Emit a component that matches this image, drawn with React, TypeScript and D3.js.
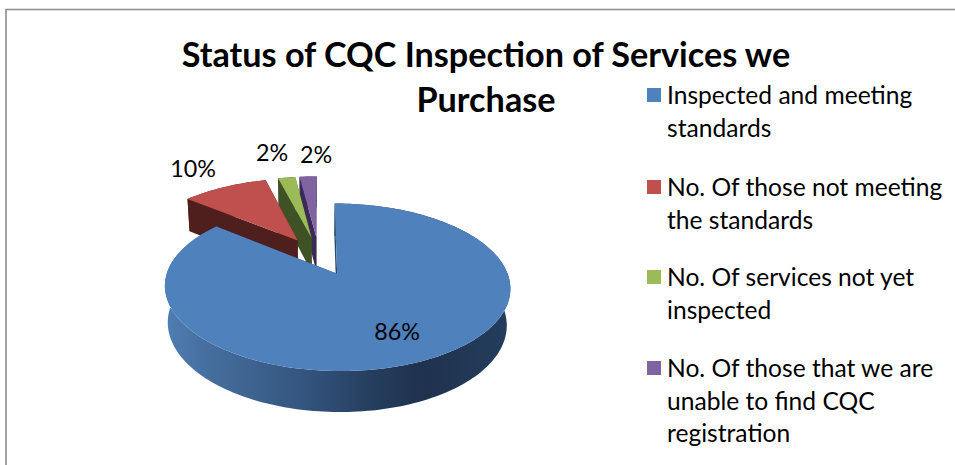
import React from "react";
import * as d3 from "d3";

const titleLines = ["Status of CQC Inspection of Services we", "Purchase"];
const categories = [
  "Inspected and meeting standards",
  "No. Of those not meeting the standards",
  "No. Of services not yet inspected",
  "No. Of those that we are unable to find CQC registration",
];
const legendLines = [
  ["Inspected and meeting", "standards"],
  ["No. Of those not meeting", "the standards"],
  ["No. Of services not yet", "inspected"],
  ["No. Of those that we are", "unable to find CQC", "registration"],
];
const shares = [86, 10, 2, 2];
const topColors = ["#4f81bd", "#c0504d", "#9bbb59", "#8064a2"];
const wallColors = ["#2b4a70", "#4f1f1e", "#3f5225", "#3a2a55"];
const labelAnchors = [[397, 332], [193, 169], [272, 153], [316, 155]];
const legendBaselines = [[104, 137], [196, 229], [286, 319], [377, 410, 442]];

const W = 955, H = 465;
const FONT = "Lato, 'Open Sans', sans-serif";

// perspective projection of the tilted pie
const CX = 319, CY = 256, A = 164.5, B = 76, K = 0.155, EXPLODE = 0.25, DEPTH = 36, SHRINK = 0.018;
const project = (x: number, z: number, lower: boolean): [number, number] => {
  const d = 1 - K * z + (lower ? SHRINK : 0);
  return [CX + (A * x) / d, CY + (B * z + (lower ? DEPTH : 0)) / d];
};
const line = d3.line<[number, number]>().x((d) => d[0]).y((d) => d[1]);

const pieArcs = d3.pie<number>().sort(null).startAngle(0).endAngle(2 * Math.PI)(shares);

const slices = pieArcs.map((arc, i) => {
  const mid = (arc.startAngle + arc.endAngle) / 2;
  const ox = EXPLODE * Math.sin(mid);
  const oz = -EXPLODE * Math.cos(mid);
  const n = Math.max(4, Math.round((arc.endAngle - arc.startAngle) * 40));
  const angles = d3.range(n + 1).map((k) => arc.startAngle + ((arc.endAngle - arc.startAngle) * k) / n);
  const rim = angles.map((t) => [ox + Math.sin(t), oz - Math.cos(t)] as [number, number]);
  const apex: [number, number] = [ox, oz];
  const P = (p: [number, number], low: boolean) => project(p[0], p[1], low);
  const top = line([apex, ...rim].map((p) => P(p, false))) + "Z";
  const wall = (a: [number, number], b: [number, number]) =>
    line([P(a, false), P(b, false), P(b, true), P(a, true)]) + "Z";
  const outer = line([...rim.map((p) => P(p, false)), ...rim.slice().reverse().map((p) => P(p, true))]) + "Z";
  return { i, top, outer, w1: wall(apex, rim[0]), w2: wall(apex, rim[rim.length - 1]) };
});

const drawOrder = [3, 2, 1, 0];
const grad = [
  [0, "#4f7db3"], [0.12, "#466f9f"], [0.4, "#34557f"], [0.62, "#243c5c"], [0.75, "#1f324e"], [1, "#243d5d"],
] as [number, string][];

export default function App() {
  return (
    <svg width={W} height={H} viewBox={`0 0 ${W} ${H}`} style={{ position: "fixed", left: 0, top: 0, background: "#fff" }}>
      <defs>
        <linearGradient id="blueWall" gradientUnits="userSpaceOnUse" x1={165} x2={509} y1={0} y2={0}>
          {grad.map(([o, c]) => <stop key={o} offset={o} stopColor={c} />)}
        </linearGradient>
      </defs>
      <rect x={0} y={0} width={W} height={H} fill="#fff" />
      <path d={`M6,${H}V9.5H${W}`} fill="none" stroke="#8c8c8c" strokeWidth={1.6} />

      {titleLines.map((t, i) => (
        <text key={t} x={486} y={67 + i * 45} textAnchor="middle" fontFamily={FONT} fontWeight={700} fontSize={34.2} fill="#000">{t}</text>
      ))}

      {drawOrder.map((k) => {
        const s = slices[k];
        const wallFill = k === 0 ? "url(#blueWall)" : wallColors[k];
        return (
          <g key={categories[k]}>
            <path d={s.w1} fill={wallColors[k]} />
            <path d={s.w2} fill={wallColors[k]} />
            <path d={s.outer} fill={wallFill} />
            <path d={s.top} fill={topColors[k]} />
          </g>
        );
      })}

      {shares.map((v, i) => (
        <text key={i} x={labelAnchors[i][0]} y={labelAnchors[i][1] + 8} textAnchor="middle" fontFamily={FONT} fontSize={23.3} fill="#000">{v}%</text>
      ))}

      {legendLines.map((ls, i) => (
        <g key={i}>
          <rect x={647} y={legendBaselines[i][0] - 16} width={14} height={14} fill={topColors[i]} />
          {ls.map((l, j) => (
            <text key={l} x={667} y={legendBaselines[i][j]} fontFamily={FONT} fontSize={24.6} fill="#000">{l}</text>
          ))}
        </g>
      ))}
    </svg>
  );
}
